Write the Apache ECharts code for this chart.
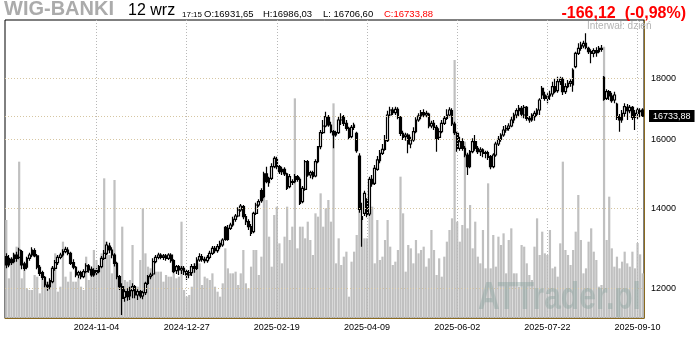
<!DOCTYPE html>
<html>
<head>
<meta charset="utf-8">
<script src="https://cdn.jsdelivr.net/npm/echarts@6/dist/echarts.min.js"></script>
<style>
  html, body { margin: 0; padding: 0; background: #fff; }
  #chart { width: 700px; height: 340px; }
</style>
</head>
<body>
<div id="chart"></div>
<script>
// WIG-BANKI daily session bars, 2024-09-13 .. 2025-09-12
const indexName = 'WIG-BANKI';
const sessionLabel = '12 wrz';
const sessionTime = '17:15';
const intervalLabel = 'Interwał: dzień';
const watermark = 'ATTrader.pl';

const firstSession = '2024-09-13';
const lastSession = '2025-09-12';
const closedDays = ['2024-11-01','2024-11-11','2024-12-24','2024-12-25','2024-12-26','2024-12-31',
  '2025-01-01','2025-01-06','2025-04-18','2025-04-21','2025-05-01','2025-06-19','2025-08-15'];

const dateTicks = ['2024-11-04','2024-12-27','2025-02-19','2025-04-09','2025-06-02','2025-07-22','2025-09-10'];
const priceTicks = [12000, 14000, 16000, 18000];

const open = [
12756,12553,12690,12634,12797,12740,12880,12577,12497,12715,
12797,12905,12773,12497,12368,12257,12077,12038,12155,12472,
12609,12740,12797,12880,12921,12838,12609,12497,12312,12368,
12273,12392,12529,12448,12312,12416,12392,12513,12715,12838,
13021,12921,12797,12593,12273,12038,11793,11923,11823,11946,
12038,11846,11923,11823,11900,12116,12273,12336,12634,12740,
12797,12740,12773,12715,12797,12658,12416,12513,12432,12472,
12392,12312,12368,12513,12472,12674,12756,12690,12658,12740,
12838,12963,12905,13005,13046,13500,13190,13473,13560,13709,
13798,13959,14049,13780,13647,13517,13387,13869,14094,14489,
14322,14964,14715,14839,15177,15394,15177,15031,15099,14964,
14602,14743,14743,14887,14810,14185,14527,15324,14935,15002,
14906,15324,15774,16207,16416,16693,16448,16238,16133,16207,
16608,16714,16501,16343,16082,16374,16186,15493,13780,13869,
14230,13851,14810,14696,15099,15354,15573,15694,15958,16768,
16931,16844,16953,16693,16186,16082,16133,15856,15979,16238,
16608,16736,16844,16768,16800,16416,16501,16374,16061,16238,
16501,16661,16768,16909,16480,16186,15724,15927,15724,15522,
15177,15623,15927,15724,15623,15674,15573,15593,15473,15177,
15522,15856,15999,16133,16290,16343,16416,16608,16768,16909,
16986,16768,17018,16661,16608,16714,16800,16931,17655,17429,
17317,17395,17463,17712,17575,17884,17964,17541,17712,17826,
17769,18409,18890,19073,19158,19256,19073,18951,18890,18988,
18951,19073,18034,17317,17541,17395,17261,17128,16714,16608,
16822,17018,16909,17018,16693,16822,16877,16931.65];

const high = [
12838,12797,12740,12855,12880,12980,12921,12634,12756,12855,
12988,12963,12822,12553,12416,12289,12155,12233,12529,12674,
12797,12855,12938,13005,12988,12880,12690,12529,12416,12416,
12448,12593,12577,12513,12472,12472,12553,12773,12921,13131,
13106,12988,12838,12634,12312,12116,11976,11999,12038,12116,
12077,11976,11961,11946,12155,12312,12368,12715,12797,12855,
12838,12822,12822,12838,12838,12690,12553,12553,12529,12529,
12448,12432,12577,12593,12740,12838,12822,12756,12797,12905,
13021,13021,13072,13156,13216,13534,13560,13621,13780,13851,
14031,14121,14094,13851,13709,13586,13914,14157,14248,14555,
15031,15177,14887,15275,15483,15473,15225,15177,15157,15002,
14964,14810,14964,14935,14868,14620,15374,15374,15060,15060,
15394,15794,16290,16608,16877,16768,16555,16290,16269,16714,
16822,16768,16608,16395,16448,16522,16238,15573,14157,14489,
14276,14887,14935,15225,15493,15674,15856,16133,16909,17040,
17018,17040,17018,16736,16269,16207,16186,16082,16374,16693,
16822,16931,16953,16909,16844,16587,16608,16448,16343,16608,
16736,16953,17018,16986,16555,16238,16082,16030,15794,15593,
15674,16030,16133,15794,15754,15724,15654,15654,15522,15573,
15927,16103,16186,16416,16448,16501,16714,16844,16986,17095,
17062,17095,17062,16736,16822,16909,16986,17317,17735,17541,
17485,17575,17884,17999,18057,18057,18034,17826,17941,17964,
18350,18951,19256,19318,19355,19633,19134,19036,19073,19110,
19158,19195,18081,17620,17598,17508,17541,17172,16800,16931,
17150,17128,17095,17062,16931,17018,16986,16986.03];

const low = [
12472,12497,12553,12593,12634,12690,12448,12416,12448,12658,
12740,12740,12448,12289,12194,12022,11946,11976,12116,12416,
12553,12690,12756,12838,12789,12553,12448,12257,12233,12210,
12233,12352,12368,12273,12273,12312,12352,12472,12674,12797,
12838,12715,12513,12210,11961,11398,11694,11717,11732,11770,
11770,11732,11770,11747,11846,12077,12210,12289,12593,12690,
12690,12674,12658,12674,12609,12352,12336,12312,12336,12312,
12194,12233,12289,12368,12432,12634,12634,12593,12609,12690,
12797,12838,12855,12938,13005,13156,13156,13430,13517,13647,
13762,13914,13709,13560,13430,13275,13344,13824,14049,14157,
14276,14696,14602,14791,15128,15099,14964,14935,14906,14508,
14555,14649,14696,14743,14094,14139,14489,14887,14839,14810,
14868,15275,15694,16165,16374,16395,16186,15724,16082,16165,
16448,16416,16269,16000,16030,16290,15593,13887,13005,13798,
13762,13798,14602,14649,15060,15275,15522,15654,15917,16693,
16768,16768,16629,16103,15979,15958,15573,15724,15927,16186,
16555,16629,16693,16693,16343,16343,16290,15623,15979,16186,
16448,16608,16693,16416,16133,15623,15654,15654,15453,14935,
15128,15573,15654,15553,15493,15453,15423,15374,15099,15128,
15473,15794,15927,16082,16207,16269,16374,16501,16661,16714,
16693,16661,16587,16522,16555,16587,16714,16768,17295,17239,
17150,17261,17373,17485,17508,17769,17429,17463,17655,17712,
17541,18350,18828,18988,19073,19036,18866,18527,18744,18768,
18890,18951,17239,17261,17261,17172,17150,16608,16238,16522,
16714,16608,16822,16608,16290,16629,16693,16706.60];

const close = [
12553,12715,12609,12797,12715,12921,12553,12472,12715,12797,
12921,12773,12497,12352,12257,12077,12038,12178,12472,12609,
12740,12797,12880,12938,12838,12593,12497,12312,12368,12273,
12392,12529,12432,12312,12416,12368,12513,12715,12838,13046,
12921,12797,12593,12273,12038,11770,11923,11808,11946,12038,
11846,11923,11823,11900,12116,12273,12312,12634,12740,12797,
12740,12773,12715,12797,12658,12392,12513,12432,12472,12392,
12312,12368,12513,12472,12674,12756,12690,12658,12740,12838,
12963,12905,13005,13089,13173,13190,13473,13560,13709,13798,
13959,14067,13780,13647,13517,13344,13869,14094,14185,14212,
14964,14743,14839,15177,15423,15177,15031,15099,14964,14555,
14887,14724,14887,14810,14139,14555,15324,14935,15002,14887,
15324,15774,16207,16416,16714,16448,16238,16133,16207,16608,
16714,16501,16343,16061,16374,16448,15654,13977,13709,14415,
13824,14810,14677,15128,15374,15573,15694,15958,16768,16931,
16844,16953,16693,16186,16061,16133,15856,15979,16238,16608,
16736,16844,16768,16822,16416,16501,16374,16030,16238,16501,
16661,16768,16931,16480,16207,15724,15927,15724,15522,15177,
15623,15927,15724,15623,15674,15573,15593,15453,15177,15522,
15856,15999,16133,16290,16343,16416,16608,16768,16909,16986,
16800,17018,16661,16608,16768,16822,16931,17261,17429,17317,
17395,17463,17712,17541,17884,17964,17541,17712,17826,17884,
18291,18890,19073,19195,19256,19110,18951,18890,18988,18914,
19073,19036,17284,17541,17395,17239,17429,16693,16608,16822,
17040,16909,17018,16693,16822,16931,16900,16733.88];

const volume = [
588,238,328,388,428,938,238,308,178,168,
168,258,248,148,258,218,218,188,308,388,
158,188,458,248,218,278,218,218,238,188,
168,368,228,288,408,348,298,388,838,458,
378,268,828,318,188,548,228,218,228,438,
188,188,348,658,388,308,298,268,278,278,
278,218,258,248,248,268,238,248,578,168,
128,138,188,328,318,328,198,248,238,228,
268,188,158,128,208,418,298,268,268,278,
198,268,408,208,178,308,408,408,258,368,
838,708,488,308,618,668,448,328,488,668,
468,548,1318,418,548,548,478,578,468,378,
628,608,748,548,658,708,578,1288,328,478,
318,368,398,128,338,398,498,738,598,478,
478,708,668,328,588,348,368,468,588,428,
318,338,408,848,628,278,438,418,328,468,
388,408,428,308,358,528,408,258,358,248,
368,458,528,598,1548,578,458,558,1058,538,
678,418,578,368,328,528,298,808,298,498,
308,488,438,508,268,468,538,268,268,188,
438,428,328,258,228,428,598,378,518,388,
378,528,298,308,248,448,938,408,378,318,
408,518,738,468,268,298,458,538,398,348,
188,198,1628,468,728,418,308,368,298,338,
398,328,308,398,298,450,382,268];

// trading calendar of the exchange between the first and last session
function sessionDays(from, to, closed) {
  const out = [];
  const d = new Date(from + 'T00:00:00Z');
  const end = new Date(to + 'T00:00:00Z');
  while (d <= end) {
    const wd = d.getUTCDay();
    const s = d.toISOString().slice(0, 10);
    if (wd !== 0 && wd !== 6 && closed.indexOf(s) < 0) out.push(s);
    d.setUTCDate(d.getUTCDate() + 1);
  }
  return out;
}
const days = sessionDays(firstSession, lastSession, closedDays);

const fmt = v => v.toFixed(2).replace('.', ',');
const n = close.length - 1;
const lastClose = close[n];
const prevClose = close[n - 1];
const change = lastClose - prevClose;
const changePct = change / prevClose * 100;
const changeText = (change < 0 ? '-' : '+') + fmt(Math.abs(change)) + '  (' +
  (changePct < 0 ? '-' : '+') + fmt(Math.abs(changePct)) + '%)';

const candles = open.map((o, i) => [o, close[i], low[i], high[i]]);

const AXIS_BROWN = '#8a6a1f';
const GRID_TAN = '#d6c6a2';
const FONT = '"Liberation Sans", Arial, sans-serif';

const chart = echarts.init(document.getElementById('chart'), null, { renderer: 'canvas' });

chart.setOption({
  animation: false,
  backgroundColor: '#fff',
  grid: {
    left: 5, right: 56, top: 20, bottom: 22,
    show: true, borderColor: '#000', borderWidth: 1, backgroundColor: 'transparent'
  },
  xAxis: {
    type: 'category',
    data: days,
    boundaryGap: true,
    axisLine: { show: true, lineStyle: { color: AXIS_BROWN, width: 1 } },
    axisTick: { show: false },
    splitLine: { show: false },
    axisLabel: {
      interval: (idx, val) => dateTicks.indexOf(val) >= 0,
      color: '#000', fontSize: 9, fontFamily: FONT, margin: 5
    }
  },
  yAxis: [
    {
      type: 'log', logBase: 10, position: 'right',
      min: 11331, max: 20145,
      axisLine: { show: true, lineStyle: { color: AXIS_BROWN, width: 1 } },
      axisTick: { show: false },
      axisLabel: { show: false },
      splitLine: { show: false }
    },
    {
      type: 'value', min: 0, max: 1788, show: false,
      splitLine: { show: false }
    }
  ],
  series: [
    {
      name: 'Wolumen',
      type: 'bar',
      xAxisIndex: 0, yAxisIndex: 1,
      data: volume,
      barWidth: '86%',
      z: 1,
      itemStyle: { color: '#c0c0c0' },
      silent: true,
      markLine: {
        silent: true,
        symbol: ['none', 'none'],
        label: { show: false },
        lineStyle: { type: [1, 2], color: '#b8b8b8', width: 1 },
        data: dateTicks.map(d => ({ xAxis: d }))
      }
    },
    {
      name: indexName,
      type: 'candlestick',
      xAxisIndex: 0, yAxisIndex: 0,
      data: candles,
      barWidth: 2.2,
      z: 3,
      itemStyle: {
        color: '#fff', color0: '#000',
        borderColor: '#000', borderColor0: '#000', borderWidth: 1.2
      },
      markLine: {
        silent: true,
        symbol: ['none', 'none'],
        lineStyle: { type: [1, 2], color: GRID_TAN, width: 1 },
        label: {
          show: true, position: 'end', distance: 7,
          color: '#000', fontSize: 9, fontFamily: FONT
        },
        data: priceTicks.map(v => ({ yAxis: v, label: { formatter: String(v) } })).concat([{
          yAxis: lastClose,
          label: {
            formatter: fmt(lastClose), distance: 5,
            color: '#fff', backgroundColor: '#000', padding: [2, 4, 1, 4]
          }
        }])
      }
    }
  ],
  graphic: [
    { type: 'text', x: 4, y: 9.5, style: { text: indexName, font: 'bold 20px ' + FONT, fill: '#ababab', verticalAlign: 'middle' } },
    { type: 'text', x: 128, y: 10.5, style: { text: sessionLabel, font: '16px ' + FONT, fill: '#000', verticalAlign: 'middle' } },
    { type: 'text', x: 182, y: 14.5, style: { text: sessionTime, font: '8px ' + FONT, fill: '#000', verticalAlign: 'middle' } },
    { type: 'text', x: 204, y: 14.5, style: { text: 'O:' + fmt(open[n]), font: '9.5px ' + FONT, fill: '#000', verticalAlign: 'middle' } },
    { type: 'text', x: 263, y: 14.5, style: { text: 'H:' + fmt(high[n]), font: '9.5px ' + FONT, fill: '#000', verticalAlign: 'middle' } },
    { type: 'text', x: 323, y: 14.5, style: { text: 'L: ' + fmt(low[n]), font: '9.5px ' + FONT, fill: '#000', verticalAlign: 'middle' } },
    { type: 'text', x: 384, y: 14.5, style: { text: 'C:' + fmt(lastClose), font: '9.5px ' + FONT, fill: '#f00', verticalAlign: 'middle' } },
    { type: 'text', x: 686, y: 13.5, style: { text: changeText, font: 'bold 16px ' + FONT, fill: '#f00', align: 'right', verticalAlign: 'middle' } },
    { type: 'text', x: 587, y: 26.5, z: 20, style: { text: intervalLabel, font: '10px ' + FONT, fill: '#b4b4b4', verticalAlign: 'middle' } },
    { type: 'text', x: 478, y: 299, z: 20, scaleX: 0.79, style: { text: watermark, font: 'bold 38px ' + FONT, fill: 'rgba(140,165,160,0.45)', verticalAlign: 'middle' } }
  ]
});
</script>
</body>
</html>
